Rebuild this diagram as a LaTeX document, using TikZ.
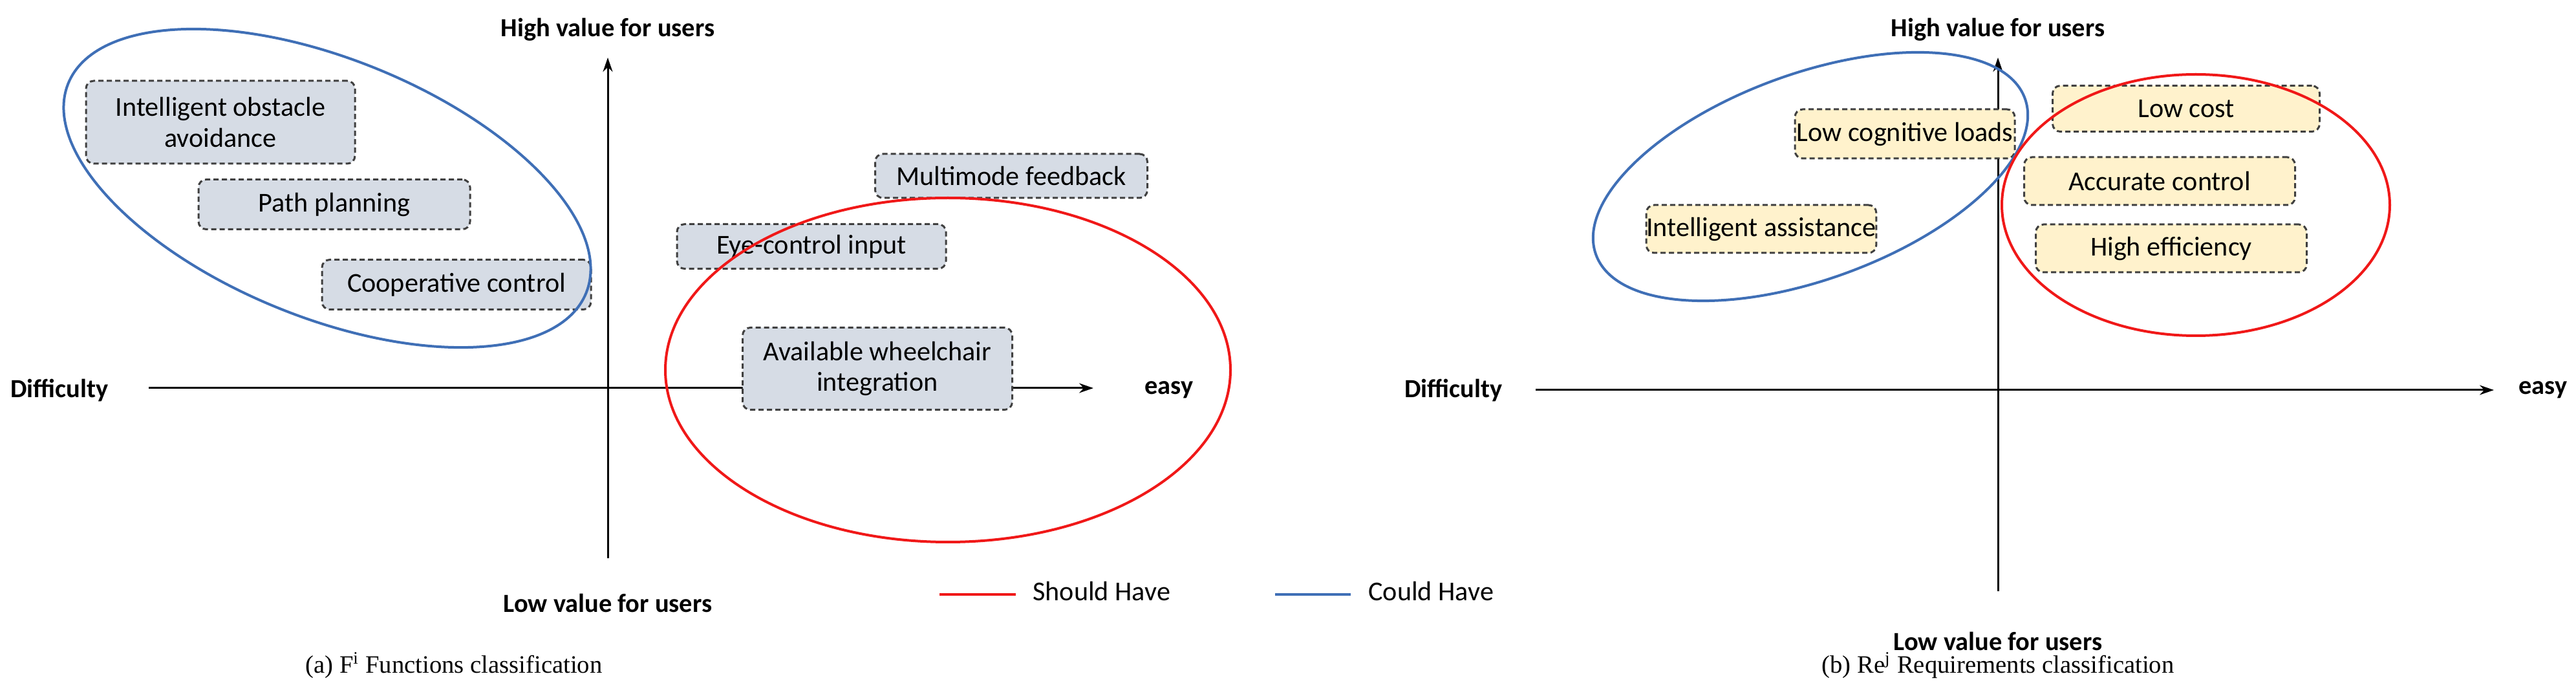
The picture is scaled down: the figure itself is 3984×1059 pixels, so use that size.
\documentclass[tikz,border=0pt]{standalone}
\usepackage{fontspec}
\setmainfont{Carlito}
\newfontfamily\capfont{Liberation Serif}
\usetikzlibrary{arrows.meta}
\definecolor{bfill}{HTML}{D6DCE5}
\definecolor{yfill}{HTML}{FFF2CC}
\definecolor{cblue}{HTML}{3F6FB6}
\definecolor{cred}{HTML}{F01818}
\begin{document}
\begin{tikzpicture}[x=0.1mm,y=-0.1mm,
  box/.style={draw=black!75,dashed,dash pattern=on 0.8mm off 0.5mm,line width=0.3mm,rounded corners=1.2mm,align=center,font=\fontsize{12}{13.5}\selectfont,inner sep=0pt},
  lbl/.style={font=\bfseries\fontsize{11.5}{13}\selectfont},
  axis/.style={line width=0.3mm,-{Stealth[length=2.2mm,width=1.5mm]}},
  ell/.style={line width=0.4mm},
  capt/.style={font=\capfont\fontsize{11}{13}\selectfont}]
\useasboundingbox (0,0) rectangle (3984,1059);
% ---------- left panel
\coordinate (lxs) at (230,600); \coordinate (lxe) at (1691,600);
\coordinate (lys) at (940,863); \coordinate (lye) at (940,89);
\draw[axis] (lxs) -- (lxe);
\draw[axis] (lys) -- (lye);
\node[lbl] (lhigh) at (940,46) {High value for users};
\node[lbl] (llow) at (940,932) {Low value for users};
\node[lbl] (ldiff) at (92,603) {Difficulty};
\node[lbl] (leasy) at (1808,603) {easy};
\node[box,fill=bfill,minimum width=41.6mm,minimum height=12.8mm] (b1) at (341,189) {Intelligent obstacle\\avoidance};
\node[box,fill=bfill,minimum width=42mm,minimum height=7.7mm] (b2) at (517,316) {Path planning};
\node[box,fill=bfill,minimum width=41.6mm,minimum height=7.7mm] (b3) at (706,440) {Cooperative control};
\node[box,fill=bfill,minimum width=42.1mm,minimum height=6.8mm] (b4) at (1564,272) {Multimode feedback};
\node[box,fill=bfill,minimum width=41.6mm,minimum height=6.9mm] (b5) at (1255,381) {Eye-control input};
\node[box,fill=bfill,minimum width=41.7mm,minimum height=12.7mm] (b6) at (1357,570) {Available wheelchair\\integration};
\draw[ell,cblue] (506,291) ellipse [x radius=432,y radius=200,rotate=-22];
\draw[ell,cred] (1466,572) ellipse [x radius=437,y radius=266];
% legend
\coordinate (r1) at (1453,919); \coordinate (r2) at (1571,919);
\coordinate (u1) at (1972,919); \coordinate (u2) at (2089,919);
\draw[line width=0.45mm,cred] (r1) -- (r2);
\draw[line width=0.45mm,cblue] (u1) -- (u2);
\node[anchor=west,font=\fontsize{12}{13}\selectfont] (sh) at (1585,914) {Should Have};
\node[anchor=west,font=\fontsize{12}{13}\selectfont] (ch) at (2104,914) {Could Have};
\node[capt] (capa) at (702,1029) {(a) F\textsuperscript{i} Functions classification};
% ---------- right panel
\coordinate (rxs) at (2375,603); \coordinate (rxe) at (3857,603);
\coordinate (rys) at (3090,914); \coordinate (rye) at (3090,89);
\draw[axis] (rxs) -- (rxe);
\draw[axis] (rys) -- (rye);
\node[lbl] (rhigh) at (3090,46) {High value for users};
\node[lbl] (rlow) at (3090,991) {Low value for users};
\node[lbl] (rdiff) at (2248,603) {Difficulty};
\node[lbl] (reasy) at (3933,603) {easy};
\node[box,fill=yfill,minimum width=34mm,minimum height=7.6mm] (c1) at (2946,207) {Low cognitive loads};
\node[box,fill=yfill,minimum width=35mm,minimum height=7.4mm] (c2) at (2724,354) {Intelligent assistance};
\node[box,fill=yfill,minimum width=41.3mm,minimum height=7.1mm] (c3) at (3381,168) {Low cost};
\node[box,fill=yfill,minimum width=41.9mm,minimum height=7.4mm] (c4) at (3340,280) {Accurate control};
\node[box,fill=yfill,minimum width=41.9mm,minimum height=7.4mm] (c5) at (3358,384) {High efficiency};
\draw[ell,cblue] (2800,273) ellipse [x radius=353,y radius=159,rotate=20];
\draw[ell,cred] (3396,317) ellipse [x radius=300,y radius=202];
\node[capt] (capb) at (3090,1029) {(b) Re\textsuperscript{j} Requirements classification};
\end{tikzpicture}
\end{document}
